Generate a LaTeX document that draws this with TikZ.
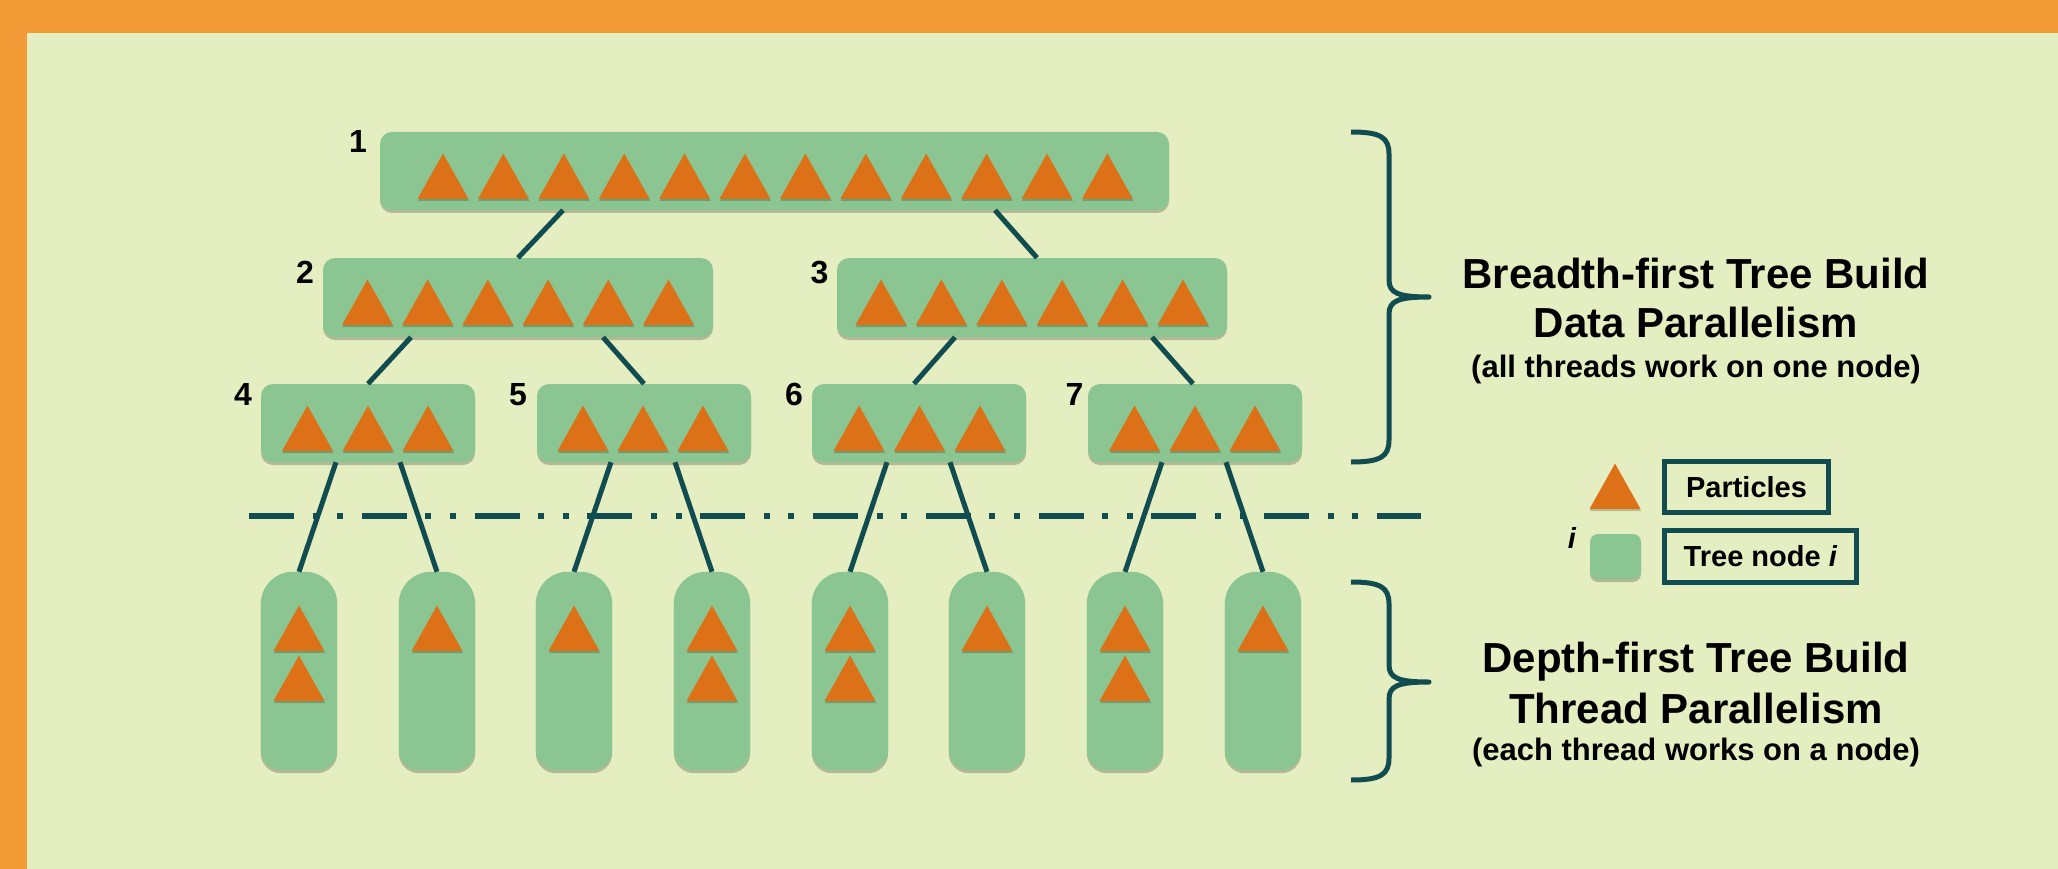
\documentclass[tikz,border=0pt]{standalone}
\usepackage{fontspec}
\setmainfont{Liberation Sans}
\usetikzlibrary{shadows,calc}
\definecolor{bgc}{HTML}{E5EEC0}
\definecolor{framec}{HTML}{F39B36}
\definecolor{nodec}{HTML}{8BC692}
\definecolor{tric}{HTML}{DD7117}
\definecolor{linec}{HTML}{104C50}
\tikzset{
  tshadow/.style={drop shadow={shadow xshift=0pt, shadow yshift=-3pt, opacity=0.22, fill=black}},
  tnode/.style={rectangle, rounded corners=12pt, fill=nodec, draw=none, inner sep=0pt, tshadow},
  leafbox/.style={rectangle, draw=none, fill=none, inner sep=0pt, minimum width=76pt, minimum height=198pt},
  conn/.style={draw=linec, line width=5pt},
  tri/.style={fill=tric, drop shadow={shadow xshift=0.5pt, shadow yshift=-2pt, opacity=0.2, fill=black}},
  numlbl/.style={font=\fontsize{32}{36}\selectfont\bfseries, anchor=base, inner sep=0pt},
  legbox/.style={draw=linec, line width=5pt, inner sep=0pt, font=\fontsize{29}{33}\selectfont\bfseries},
  bigtitle/.style={font=\fontsize{42}{48}\selectfont\bfseries, anchor=base, inner sep=0pt},
  subtitle/.style={font=\fontsize{31}{36}\selectfont\bfseries, anchor=base, inner sep=0pt},
  bracec/.style={draw=linec, line width=5pt, line join=round},
  dashline/.style={draw=linec, line width=6pt, dash pattern=on 45pt off 18.6pt on 6pt off 18.6pt on 6pt off 18.6pt}
}
\newcommand{\ptri}[2]{\fill[tri] ({#1-25.5},{#2}) -- ({#1},{#2-45.5}) -- ({#1+25.5},{#2}) -- cycle;}
\begin{document}
\begin{tikzpicture}[x=1pt,y=-1pt]
\useasboundingbox (0,0) rectangle (2058,869);
\fill[framec] (0,0) rectangle (2058,869);
\fill[bgc] (27,33) rectangle (2058,869);

% dash-dot line
\coordinate (dl) at (249,516);
\coordinate (dr) at (1421,516);
\draw[dashline] (dl) -- (dr);

% tree nodes
\node[tnode, minimum width=789pt, minimum height=78pt] (n1) at (774.5,171) {};
\node[tnode, minimum width=390pt, minimum height=79pt] (n2) at (518,297.5) {};
\node[tnode, minimum width=390pt, minimum height=79pt] (n3) at (1032,297.5) {};
\node[tnode, minimum width=214pt, minimum height=78pt] (n4) at (368,423) {};
\node[tnode, minimum width=214pt, minimum height=78pt] (n5) at (644,423) {};
\node[tnode, minimum width=214pt, minimum height=78pt] (n6) at (919,423) {};
\node[tnode, minimum width=214pt, minimum height=78pt] (n7) at (1195,423) {};

% labels
\node[numlbl] (lab1) at (358,153) {1};
\node[numlbl] (lab2) at (305,283) {2};
\node[numlbl] (lab3) at (819.5,283) {3};
\node[numlbl] (lab4) at (243,405) {4};
\node[numlbl] (lab5) at (518,405) {5};
\node[numlbl] (lab6) at (794,405) {6};
\node[numlbl] (lab7) at (1074.5,405) {7};

% triangles in tree nodes
\foreach \k in {0,...,11} {\ptri{443+60.4*\k}{199}}
\foreach \k in {0,...,5} {\ptri{367.5+60.2*\k}{325}}
\foreach \k in {0,...,5} {\ptri{881+60.4*\k}{325}}
\foreach \c in {307.5,368,428, 583,643,703, 859,919.5,980, 1134.5,1195,1255} {\ptri{\c}{451}}

% leaves
\foreach \i/\x in {1/299,2/437,3/574,4/712,5/850,6/987,7/1125,8/1263} {
  \node[leafbox] (l\i) at (\x,671) {};
  \fill[nodec, tshadow] (l\i.west) [rounded corners=32pt] -- (l\i.north west) -- (l\i.north east) -- (l\i.east)
     [rounded corners=20pt] -- (l\i.south east) -- (l\i.south west) -- cycle;
}
\foreach \x in {299,437,574,712,850,987,1125,1263} {\ptri{\x}{651}}
\foreach \x in {299,712,850,1125} {\ptri{\x}{701}}

% connectors
\draw[conn] ([xshift=45pt]n2.north |- n1.south) -- (n2.north);
\draw[conn] ([xshift=-37pt]n3.north |- n1.south) -- ([xshift=5pt]n3.north);
\draw[conn] ([xshift=43pt]n4.north |- n2.south) -- (n4.north);
\draw[conn] ([xshift=-41pt]n5.north |- n2.south) -- (n5.north);
\draw[conn] ([xshift=36pt]n6.north |- n3.south) -- ([xshift=-5pt]n6.north);
\draw[conn] ([xshift=-43pt]n7.north |- n3.south) -- ([xshift=-2pt]n7.north);
\draw[conn] ([xshift=37pt]l1.north |- n4.south) -- (l1.north);
\draw[conn] ([xshift=-37pt]l2.north |- n4.south) -- (l2.north);
\draw[conn] ([xshift=37pt]l3.north |- n5.south) -- (l3.north);
\draw[conn] ([xshift=-37pt]l4.north |- n5.south) -- (l4.north);
\draw[conn] ([xshift=37pt]l5.north |- n6.south) -- (l5.north);
\draw[conn] ([xshift=-37pt]l6.north |- n6.south) -- (l6.north);
\draw[conn] ([xshift=37pt]l7.north |- n7.south) -- (l7.north);
\draw[conn] ([xshift=-37pt]l8.north |- n7.south) -- (l8.north);

% braces
\draw[bracec] (1351,132) .. controls (1380,132) and (1389,137) .. (1389,154) -- (1389,280)
  .. controls (1389,293) and (1398,297) .. (1429,297)
  .. controls (1398,297) and (1389,301) .. (1389,314) -- (1389,440)
  .. controls (1389,457) and (1380,462) .. (1351,462);
\draw[bracec] (1351,582) .. controls (1380,582) and (1389,587) .. (1389,604) -- (1389,665)
  .. controls (1389,678) and (1398,682) .. (1429,682)
  .. controls (1398,682) and (1389,686) .. (1389,699) -- (1389,758)
  .. controls (1389,775) and (1380,780) .. (1351,780);

% right texts
\node[bigtitle] (bt1) at (1696,288) {Breadth-first Tree Build};
\node[bigtitle] (bt2) at (1696,337) {Data Parallelism};
\node[subtitle] (bt3) at (1696,377) {(all threads work on one node)};
\node[bigtitle] (dt1) at (1696,672) {Depth-first Tree Build};
\node[bigtitle] (dt2) at (1696,723) {Thread Parallelism};
\node[subtitle] (dt3) at (1696,760) {(each thread works on a node)};

% legend
\ptri{1615}{509}
\node[tnode, rounded corners=8pt, minimum width=51pt, minimum height=45pt] (legnode) at (1615.5,556.5) {};
\node[font=\fontsize{29}{33}\selectfont\bfseries\itshape, anchor=base, inner sep=0pt] (legi) at (1572,548) {i};
\node[legbox, minimum width=164pt, minimum height=51pt] (legp) at (1746.5,487) {Particles};
\node[legbox, minimum width=192pt, minimum height=52pt] (legt) at (1760.5,556.5) {Tree node \textit{i}};
\end{tikzpicture}
\end{document}
